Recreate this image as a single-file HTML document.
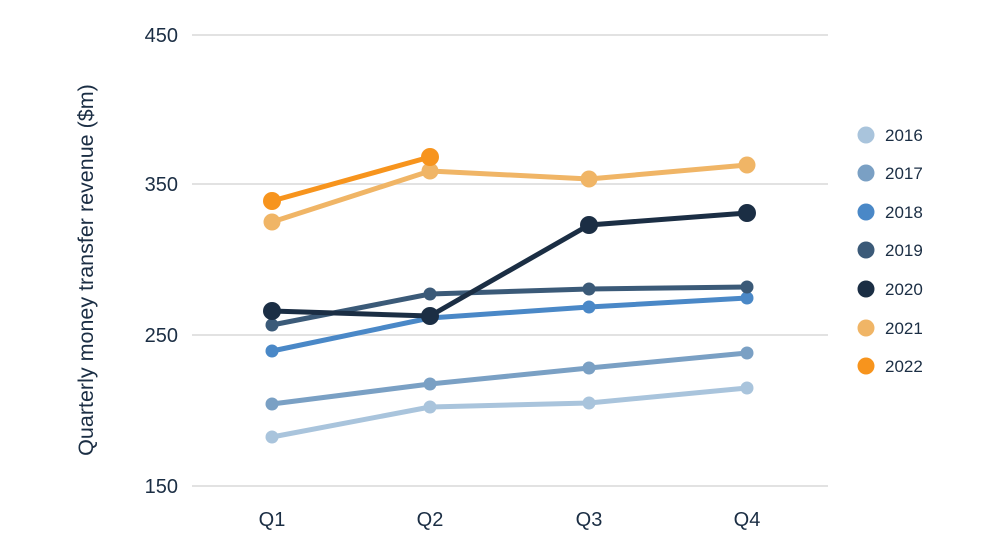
<!DOCTYPE html>
<html><head><meta charset="utf-8"><style>
html,body{margin:0;padding:0;background:#fff;}
svg{display:block;font-family:"Liberation Sans",sans-serif;}
</style></head><body>
<svg width="999" height="554" viewBox="0 0 999 554" xmlns="http://www.w3.org/2000/svg">
<g stroke="#d9d9d9" stroke-width="1.5">
<line x1="192" y1="35" x2="828" y2="35"/>
<line x1="192" y1="184" x2="828" y2="184"/>
<line x1="192" y1="335" x2="828" y2="335"/>
<line x1="192" y1="486" x2="828" y2="486"/>
</g>
<g fill="#1b2e44" font-size="20" text-anchor="end">
<text x="178" y="42">450</text>
<text x="178" y="191">350</text>
<text x="178" y="342">250</text>
<text x="178" y="493">150</text>
</g>
<g fill="#1b2e44" font-size="20" text-anchor="middle">
<text x="272" y="526">Q1</text>
<text x="430" y="526">Q2</text>
<text x="589" y="526">Q3</text>
<text x="747" y="526">Q4</text>
</g>
<text transform="translate(93,270) rotate(-90)" fill="#1b2e44" font-size="21.5" text-anchor="middle">Quarterly money transfer revenue ($m)</text>
<g fill="none" stroke-width="5" stroke-linejoin="round">
<polyline stroke="#a9c4dc" points="272,437 430,407 589,403 747,388"/>
<polyline stroke="#7aa0c4" points="272,404 430,384 589,368 747,353"/>
<polyline stroke="#4a88c7" points="272,351 430,318 589,307 747,298"/>
<polyline stroke="#3b5a78" points="272,325 430,294 589,289 747,287"/>
<polyline stroke="#1b2e44" points="272,311 430,316 589,225 747,213"/>
<polyline stroke="#f0b566" points="272,222 430,171 589,179 747,165"/>
<polyline stroke="#f7941d" points="272,201 430,157"/>
</g>
<g fill="#a9c4dc"><circle cx="272" cy="437" r="6.5"/><circle cx="430" cy="407" r="6.5"/><circle cx="589" cy="403" r="6.5"/><circle cx="747" cy="388" r="6.5"/></g>
<g fill="#7aa0c4"><circle cx="272" cy="404" r="6.5"/><circle cx="430" cy="384" r="6.5"/><circle cx="589" cy="368" r="6.5"/><circle cx="747" cy="353" r="6.5"/></g>
<g fill="#4a88c7"><circle cx="272" cy="351" r="6.5"/><circle cx="430" cy="318" r="6.5"/><circle cx="589" cy="307" r="6.5"/><circle cx="747" cy="298" r="6.5"/></g>
<g fill="#3b5a78"><circle cx="272" cy="325" r="6.5"/><circle cx="430" cy="294" r="6.5"/><circle cx="589" cy="289" r="6.5"/><circle cx="747" cy="287" r="6.5"/></g>
<g fill="#1b2e44"><circle cx="272" cy="311" r="9"/><circle cx="430" cy="316" r="9"/><circle cx="589" cy="225" r="9"/><circle cx="747" cy="213" r="9"/></g>
<g fill="#f0b566"><circle cx="272" cy="222" r="8.5"/><circle cx="430" cy="171" r="8.5"/><circle cx="589" cy="179" r="8.5"/><circle cx="747" cy="165" r="8.5"/></g>
<g fill="#f7941d"><circle cx="272" cy="201" r="9"/><circle cx="430" cy="157" r="9"/></g>
<g font-size="17" fill="#1b2e44">
<circle cx="866" cy="135" r="8.5" fill="#a9c4dc"/><text x="885" y="141">2016</text>
<circle cx="866" cy="173" r="8.5" fill="#7aa0c4"/><text x="885" y="179">2017</text>
<circle cx="866" cy="212" r="8.5" fill="#4a88c7"/><text x="885" y="218">2018</text>
<circle cx="866" cy="250" r="8.5" fill="#3b5a78"/><text x="885" y="256">2019</text>
<circle cx="866" cy="289" r="8.5" fill="#1b2e44"/><text x="885" y="295">2020</text>
<circle cx="866" cy="328" r="8.5" fill="#f0b566"/><text x="885" y="334">2021</text>
<circle cx="866" cy="366" r="8.5" fill="#f7941d"/><text x="885" y="372">2022</text>
</g>
</svg>
</body></html>
